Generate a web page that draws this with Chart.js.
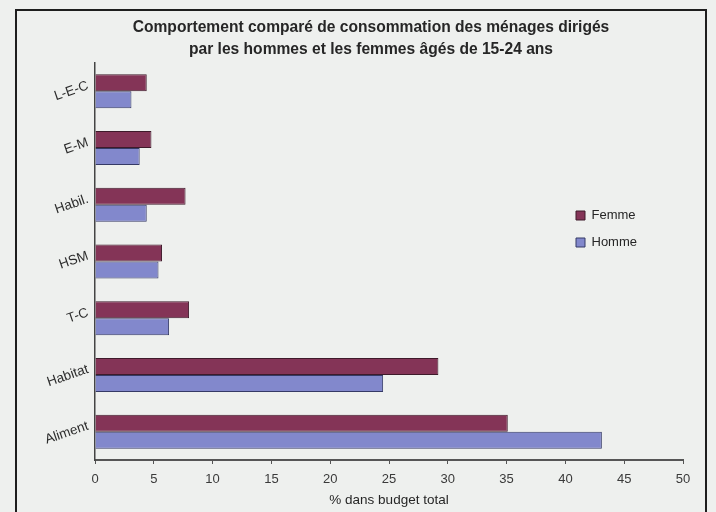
<!DOCTYPE html>
<html lang="fr">
<head>
<meta charset="utf-8">
<title>Comportement de consommation 15-24 ans</title>
<script src="https://cdn.jsdelivr.net/npm/chart.js@4.4.1/dist/chart.umd.min.js"></script>
<style>
  html, body { margin: 0; padding: 0; background: #eef0ee; }
  body { width: 716px; height: 512px; position: relative; overflow: hidden; }
  #frame {
    position: absolute; left: 15px; top: 9px; width: 692px; height: 540px;
    border: 2px solid #1e1e1e; box-sizing: border-box;
  }
  #wrap { position: absolute; left: 0; top: 0; width: 716px; height: 512px; }
</style>
</head>
<body>
<div id="frame"></div>
<div id="wrap"><canvas id="chart" width="716" height="512"></canvas></div>
<script>
// Postes de consommation (de haut en bas)
const categories = ['L-E-C', 'E-M', 'Habil.', 'HSM', 'T-C', 'Habitat', 'Aliment'];
// Part dans le budget total (%)
const femme = [4.4, 4.8, 7.7, 5.7, 8.0, 29.2, 35.1];
const homme = [3.1, 3.8, 4.4, 5.4, 6.3, 24.5, 43.1];
const seriesNames = ['Femme', 'Homme'];
const xTicks = [0, 5, 10, 15, 20, 25, 30, 35, 40, 45, 50];
const titleLines = [
  'Comportement comparé de consommation des ménages dirigés',
  'par les hommes et les femmes âgés de 15-24 ans'
];
const axisTitle = '% dans budget total';

const FONT = '"Liberation Sans", Arial, sans-serif';

// Légende à l'intérieur de la zone de tracé, titre recentré sur le cadre
const boxPlacer = {
  id: 'boxPlacer',
  beforeDraw(chart) {
    const lg = chart.legend;
    if (lg) {
      const w = lg.width, h = lg.height;
      lg.left = 562; lg.top = 195;
      lg.right = lg.left + w; lg.bottom = lg.top + h;
    }
    const tb = chart.titleBlock;
    if (tb) {
      tb.left = 59; tb.right = chart.chartArea.right;
      tb.width = tb.right - tb.left;
    }
  }
};

new Chart(document.getElementById('chart'), {
  type: 'bar',
  data: {
    labels: categories,
    datasets: [
      {
        label: seriesNames[0], data: femme,
        backgroundColor: '#843457', borderColor: '#3e1a2a', borderWidth: 1,
        categoryPercentage: 0.6, barPercentage: 1.0
      },
      {
        label: seriesNames[1], data: homme,
        backgroundColor: '#8288cc', borderColor: '#353a66', borderWidth: 1,
        categoryPercentage: 0.6, barPercentage: 1.0
      }
    ]
  },
  options: {
    indexAxis: 'y',
    responsive: false,
    animation: false,
    devicePixelRatio: 1,
    layout: { padding: { left: 0, right: 33, top: 0, bottom: 0 } },
    plugins: {
      title: {
        display: true,
        text: titleLines,
        color: '#262626',
        font: { family: FONT, size: 15.6, weight: 'bold', lineHeight: 1.41 },
        padding: { top: 17, bottom: 2 }
      },
      legend: {
        display: true,
        position: 'chartArea',
        align: 'start',
        labels: {
          color: '#262626',
          font: { family: FONT, size: 13 },
          boxWidth: 9, boxHeight: 9,
          padding: 14
        }
      },
      tooltip: { enabled: false }
    },
    scales: {
      x: {
        min: 0, max: 50,
        afterBuildTicks: s => { s.ticks = xTicks.map(v => ({ value: v })); },
        afterFit: s => { s.height = 52; },
        border: { display: true, color: '#555', width: 2 },
        grid: { display: true, drawOnChartArea: false, drawTicks: true, tickLength: 4, color: '#555', lineWidth: 1 },
        ticks: { color: '#3a3a3a', font: { family: FONT, size: 13 }, padding: 8, maxRotation: 0 },
        title: {
          display: true, text: axisTitle, color: '#262626',
          font: { family: FONT, size: 13.5 }, padding: { top: 0, bottom: 4 }
        }
      },
      y: {
        afterFit: s => { s.width = 95; },
        border: { display: true, color: '#444', width: 1.5 },
        grid: { display: false, drawTicks: false },
        ticks: {
          color: '#2c2c2c', font: { family: FONT, size: 13.5 },
          padding: 7, minRotation: 19, maxRotation: 19, labelOffset: -6
        }
      }
    }
  },
  plugins: [boxPlacer]
});
</script>
</body>
</html>
